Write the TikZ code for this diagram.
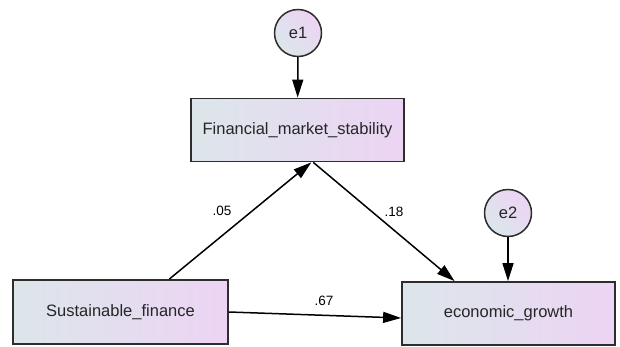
\documentclass[tikz,border=0pt]{standalone}
\usepackage{fontspec}
\setmainfont{Liberation Sans}
\usetikzlibrary{arrows.meta}
\definecolor{gleft}{RGB}{220,230,234}
\definecolor{gright}{RGB}{236,212,244}
\definecolor{edge}{RGB}{45,45,45}
\begin{document}
\begin{tikzpicture}[x=1pt,y=-1pt,
  obs/.style={draw=edge,line width=1.8pt,rectangle,left color=gleft,right color=gright,
    minimum width=213pt,minimum height=63pt,inner sep=0pt,
    font=\fontsize{16.5}{19}\selectfont,text=black!85},
  err/.style={draw=edge,line width=1.5pt,circle,shading=axis,left color=gleft,right color=gright,shading angle=135,
    minimum size=47pt,inner sep=0pt,font=\fontsize{16.5}{19}\selectfont,text=black!85},
  arr/.style={line width=1.5pt,-{Triangle[length=18pt,width=11pt]}},
  lab/.style={font=\fontsize{13.5}{15}\selectfont,inner sep=0pt}]
\useasboundingbox (0,0) rectangle (620,347);
\node[err] (e1) at (298,33) {e1};
\node[obs] (fin) at (297.5,130) {Financial\_market\_stability};
\node[obs,minimum width=215pt,minimum height=64pt] (sust) at (120.5,312) {Sustainable\_finance};
\node[obs] (econ) at (508.5,313.5) {economic\_growth};
\node[err] (e2) at (508,213) {e2};
\draw[arr] (e1) -- (fin);
\draw[arr] (e2) -- (econ.north -| e2);
\draw[arr] (sust.34) -- (fin.-67);
\draw[arr] (fin.-64) -- (econ.149.5);
\draw[arr] (sust.east) -- ([yshift=-4.5pt]econ.west);
\node[lab] (l05) at (222,211) {.05};
\node[lab] (l18) at (394,212) {.18};
\node[lab] (l67) at (324,301) {.67};
\end{tikzpicture}
\end{document}
